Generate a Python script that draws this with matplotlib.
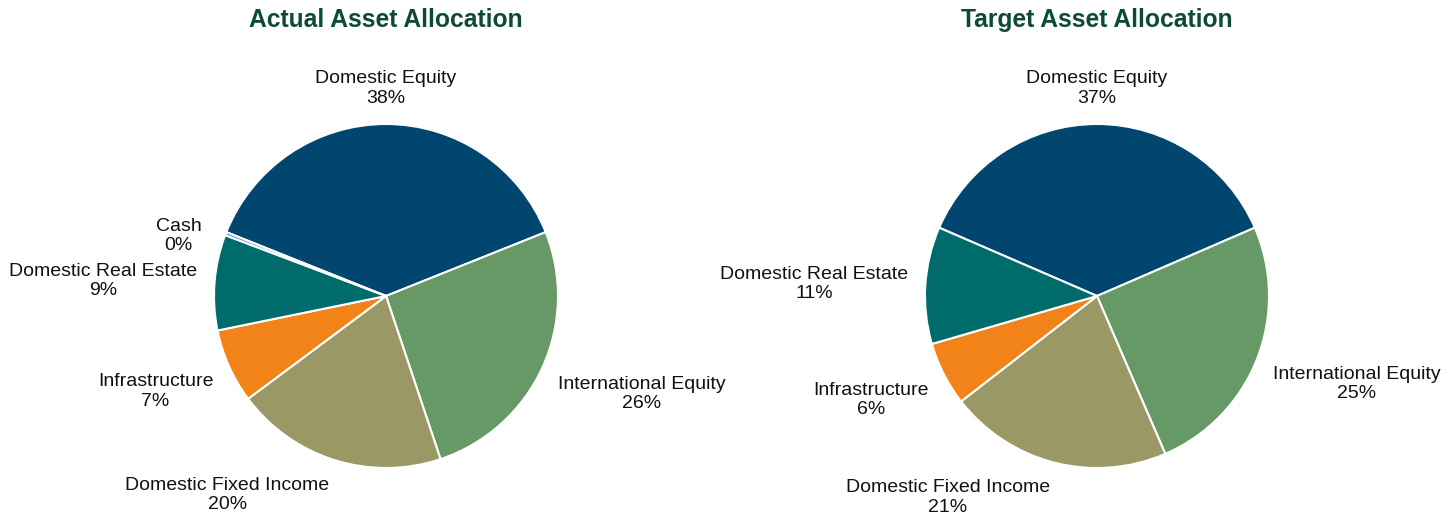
import numpy as np
import matplotlib
matplotlib.use("Agg")
import matplotlib.pyplot as plt

plt.rcParams['font.family'] = ['Liberation Sans', 'DejaVu Sans']

actual_labels = ["Domestic Equity", "International Equity", "Domestic Fixed Income",
                 "Infrastructure", "Domestic Real Estate", "Cash"]
actual_values = [38, 26, 20, 7, 9, 0.3]
actual_pct = ["38%", "26%", "20%", "7%", "9%", "0%"]

target_labels = ["Domestic Equity", "International Equity", "Domestic Fixed Income",
                 "Infrastructure", "Domestic Real Estate"]
target_values = [37, 25, 21, 6, 11]
target_pct = ["37%", "25%", "21%", "6%", "11%"]

colors_map = {
    "Domestic Equity": "#00466E",
    "International Equity": "#669966",
    "Domestic Fixed Income": "#9A9966",
    "Infrastructure": "#F28318",
    "Domestic Real Estate": "#006B6B",
    "Cash": "#5B8FB9",
}

W, H = 1455, 518
fig = plt.figure(figsize=(W / 100, H / 100), dpi=100)
R = 172
cy = 296


def draw(cx, title, labels, values, pcts):
    ax = fig.add_axes([(cx - R) / W, (H - cy - R) / H, 2 * R / W, 2 * R / H])
    total = sum(values)
    start = 90 + values[0] / total * 180
    wedges, _ = ax.pie(values, colors=[colors_map[l] for l in labels],
                       startangle=start, counterclock=False, radius=1,
                       wedgeprops=dict(edgecolor="white", linewidth=1.5))
    ax.set_xlim(-1, 1)
    ax.set_ylim(-1, 1)
    ax.set_aspect("auto")
    for w, lab, p, v in zip(wedges, labels, pcts, values):
        ang = np.deg2rad((w.theta1 + w.theta2) / 2)
        c, s = np.cos(ang), np.sin(ang)
        # tiny slices: labels nudged outward/down to avoid overlap
        dist = 1.1 if v >= 1 else 1.15
        if v < 1:
            s -= 0.06
        x, y = dist * c, dist * s
        if abs(c) < 0.35:
            ha = "center" if s > 0 else ("right" if c < 0 else "left")
        else:
            ha = "left" if c > 0 else "right"
        if s > 0.5:
            va = "bottom"
        elif s < -0.2:
            va = "top"
        else:
            va = "center"
        ax.text(x, y, f"{lab}\n{p}", ha=ha, va=va, multialignment="center",
                fontsize=14, color="#111111", linespacing=1.2, clip_on=False)
    fig.text(cx / W, 1 - 20 / H, title, ha="center", va="center",
             fontsize=17.7, fontweight="bold", color="#0E4A3A")


draw(386, "Actual Asset Allocation", actual_labels, actual_values, actual_pct)
draw(1097, "Target Asset Allocation", target_labels, target_values, target_pct)

fig.savefig("out.png", dpi=100, facecolor="white")
